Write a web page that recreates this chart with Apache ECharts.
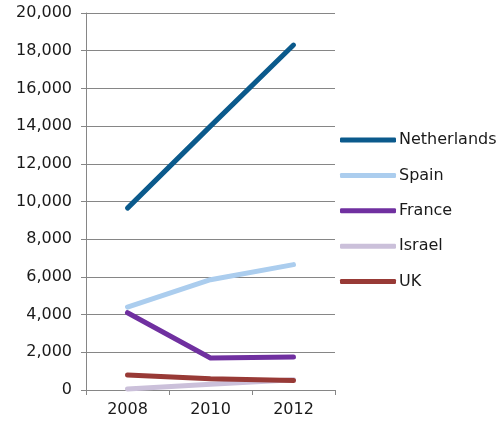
<!DOCTYPE html>
<html>
<head>
<meta charset="utf-8">
<script src="https://cdn.jsdelivr.net/npm/echarts@6/dist/echarts.min.js"></script>
<style>
  html, body { margin: 0; padding: 0; background: #fff; }
  #chart { width: 496px; height: 423px; }
</style>
</head>
<body>
<div id="chart"></div>
<script>
// Years on the category axis
const years = ['2008', '2010', '2012'];

// Values per country
const netherlands = [9650, 14000, 18300];
const spain = [4400, 5850, 6650];
const france = [4100, 1700, 1750];
const israel = [50, 300, 550];
const uk = [800, 600, 500];

const seriesNames = ['Netherlands', 'Spain', 'France', 'Israel', 'UK'];
const seriesData = [netherlands, spain, france, israel, uk];
const seriesColors = ['#0b5a8c', '#abcdee', '#7030a0', '#cbc0da', '#983a36'];

const font = 'DejaVu Sans, Verdana, sans-serif';
const textColor = '#1a1a1a';
const axisGray = '#868686';

const chart = echarts.init(document.getElementById('chart'), null, { renderer: 'canvas' });

chart.setOption({
  animation: false,
  backgroundColor: '#ffffff',
  grid: { left: 86, top: 13, right: 161, bottom: 33, containLabel: false },
  legend: {
    orient: 'vertical',
    left: 340,
    top: 132,
    padding: 0,
    itemWidth: 56,
    itemHeight: 5,
    itemGap: 19.4,
    icon: 'roundRect',
    textStyle: { fontFamily: font, fontSize: 16, color: textColor, padding: [0, 0, 0, -2] },
    data: seriesNames
  },
  xAxis: {
    type: 'category',
    data: years,
    boundaryGap: true,
    axisLine: { show: true, lineStyle: { color: axisGray, width: 1 } },
    axisTick: { show: true, length: 5, alignWithLabel: false, lineStyle: { color: axisGray } },
    axisLabel: { fontFamily: font, fontSize: 16, color: textColor, margin: 12 },
    splitLine: { show: false }
  },
  yAxis: {
    type: 'value',
    min: 0,
    max: 20000,
    interval: 2000,
    axisLine: { show: true, lineStyle: { color: axisGray, width: 1 } },
    axisTick: { show: true, length: 5, lineStyle: { color: axisGray } },
    axisLabel: {
      fontFamily: font, fontSize: 16, color: textColor, margin: 14,
      formatter: v => v.toLocaleString('en-US')
    },
    splitLine: { show: true, lineStyle: { color: axisGray, width: 1 } }
  },
  series: seriesNames.map((name, i) => ({
    name,
    type: 'line',
    data: seriesData[i],
    symbol: 'none',
    color: seriesColors[i],
    lineStyle: { width: 5, cap: 'round', join: 'round', color: seriesColors[i] }
  }))
});
</script>
</body>
</html>
